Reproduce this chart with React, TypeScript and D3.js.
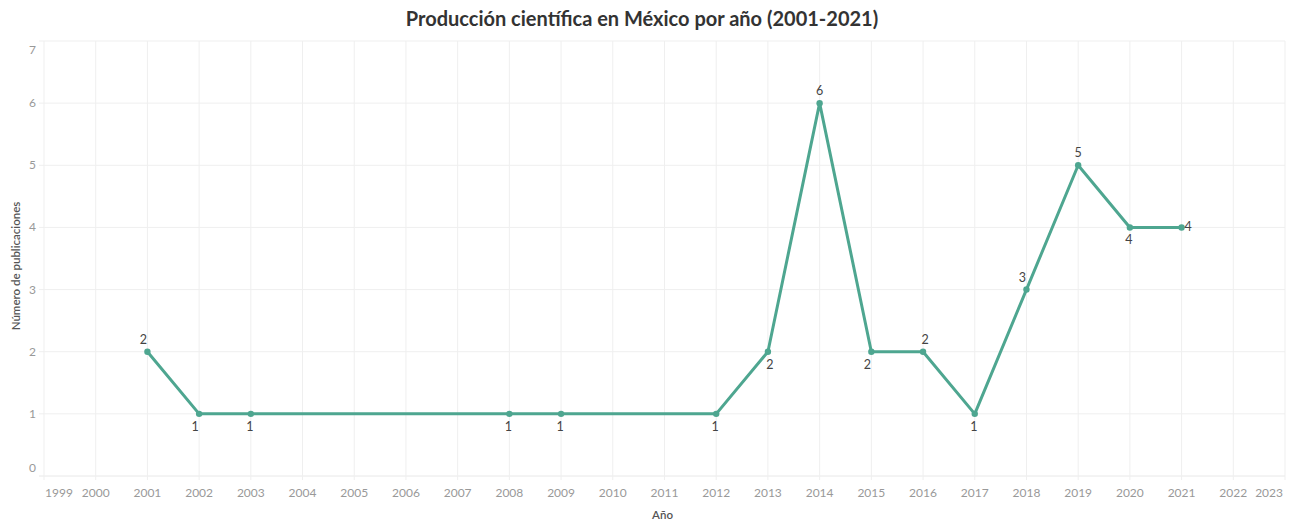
import React from "react";
import * as d3 from "d3";

// Publications per year
const years = [2001, 2002, 2003, 2008, 2009, 2012, 2013, 2014, 2015, 2016, 2017, 2018, 2019, 2020, 2021];
const counts = [2, 1, 1, 1, 1, 1, 2, 6, 2, 2, 1, 3, 5, 4, 4];
// Where each value label sits relative to its point
const labelPlacement = ["nw", "sw", "s", "s", "s", "s", "se", "n", "sw", "ne", "s", "nw", "n", "s", "e"];

const xTicks = d3.range(1999, 2024);
const yTicks = d3.range(0, 8);

const title = "Producción científica en México por año (2001-2021)";
const xTitle = "Año";
const yTitle = "Número de publicaciones";

const W = 1296;
const H = 521;
const plot = { left: 44, right: 1285, top: 41, bottom: 476 };
const FONT = "Lato, 'Open Sans', sans-serif";
const LINE_COLOR = "#4ea690";

export default function App() {
  const x = d3.scaleLinear().domain([1999, 2023]).range([plot.left, plot.right]);
  const y = d3.scaleLinear().domain([0, 7]).range([plot.bottom, plot.top]);

  const pts = years.map((yr, i) => ({ yr, v: counts[i], place: labelPlacement[i] }));
  const line = d3
    .line<{ yr: number; v: number }>()
    .x((d) => x(d.yr))
    .y((d) => y(d.v));

  const labelPos = (px: number, py: number, place: string) => {
    switch (place) {
      case "n":
        return { x: px, y: py - 8, anchor: "middle" };
      case "nw":
        return { x: px - 4, y: py - 8, anchor: "middle" };
      case "ne":
        return { x: px + 2, y: py - 8, anchor: "middle" };
      case "s":
        return { x: px - 1, y: py + 17, anchor: "middle" };
      case "sw":
        return { x: px - 4, y: py + 17, anchor: "middle" };
      case "se":
        return { x: px + 2, y: py + 17, anchor: "middle" };
      case "e":
        return { x: px + 3, y: py + 4, anchor: "start" };
      default:
        return { x: px, y: py - 8, anchor: "middle" };
    }
  };

  return (
    <svg
      width={W}
      height={H}
      style={{ position: "absolute", left: 0, top: 0, background: "#fff" }}
      fontFamily={FONT}
    >
      <text x={642} y={26} textAnchor="middle" fontSize={20} fontWeight={700} fill="#333">
        {title}
      </text>

      {/* horizontal gridlines */}
      {yTicks.map((t) => (
        <line
          key={"gy" + t}
          x1={plot.left - 5}
          x2={plot.right}
          y1={y(t)}
          y2={y(t)}
          stroke={t === 0 ? "#e8e8e8" : "#efefef"}
          strokeWidth={1}
        />
      ))}
      {/* vertical gridlines */}
      {xTicks.map((t) => (
        <line
          key={"gx" + t}
          x1={x(t)}
          x2={x(t)}
          y1={plot.top}
          y2={plot.bottom + 4}
          stroke="#efefef"
          strokeWidth={1}
        />
      ))}

      {/* y tick labels */}
      {yTicks.map((t, i) => {
        let yy = y(t) + 4;
        if (i === yTicks.length - 1) yy = y(t) + 13;
        if (i === 0) yy = y(t) - 4;
        return (
          <text key={"ly" + t} x={36} y={yy} textAnchor="end" fontSize={12} fill="#999">
            {t}
          </text>
        );
      })}

      {/* x tick labels */}
      {xTicks.map((t, i) => {
        let anchor = "middle";
        let xx = x(t);
        if (i === 0) {
          anchor = "start";
          xx = x(t) + 1;
        } else if (i === xTicks.length - 1) {
          anchor = "end";
          xx = x(t) - 2;
        }
        return (
          <text key={"lx" + t} x={xx} y={497} textAnchor={anchor} fontSize={12} fill="#999">
            {t}
          </text>
        );
      })}

      <text x={(plot.left + plot.right) / 2 - 2} y={519} textAnchor="middle" fontSize={11.5} fontWeight={600} fill="#555">
        {xTitle}
      </text>
      <text
        transform={`translate(20, ${266}) rotate(-90)`}
        textAnchor="middle"
        fontSize={11.5}
        fontWeight={600}
        fill="#555"
      >
        {yTitle}
      </text>

      <path d={line(pts) || ""} fill="none" stroke={LINE_COLOR} strokeWidth={3} strokeLinejoin="round" />
      {pts.map((p) => (
        <circle key={"p" + p.yr} cx={x(p.yr)} cy={y(p.v)} r={3.2} fill={LINE_COLOR} />
      ))}

      {pts.map((p) => {
        const lp = labelPos(x(p.yr), y(p.v), p.place);
        return (
          <text key={"v" + p.yr} x={lp.x} y={lp.y} textAnchor={lp.anchor} fontSize={12.5} fill="#444">
            {p.v}
          </text>
        );
      })}
    </svg>
  );
}
